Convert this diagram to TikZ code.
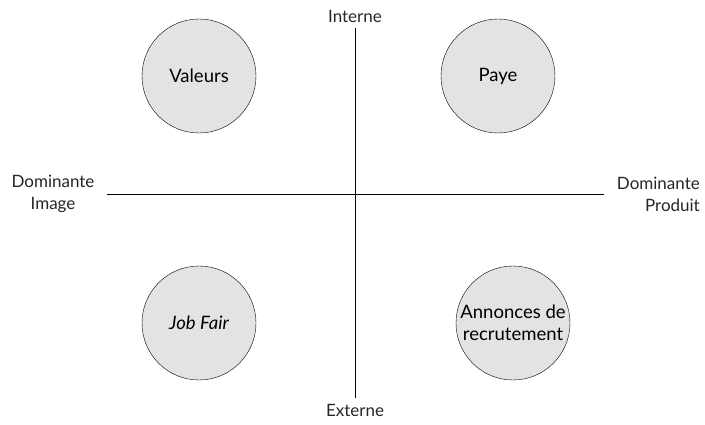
\documentclass[tikz,border=0pt]{standalone}
\usepackage{fontspec}
\setmainfont{Lato}
\usetikzlibrary{positioning}

\begin{document}
\begin{tikzpicture}[
    x=1pt, y=1pt,
    bubble/.style={circle, draw=black, fill=gray!22, minimum size=114pt, inner sep=0pt, align=center, font=\fontsize{18.5}{22}\selectfont},
    axis/.style={thick, color=black},
    pole/.style={font=\fontsize{17}{22}\selectfont, color=black!85, inner sep=1pt}
]
\useasboundingbox (0,0) rectangle (705,424);
% axes
\coordinate (top) at (355,396);
\coordinate (bot) at (355,26);
\coordinate (lft) at (107,230);
\coordinate (rgt) at (604,230);
\draw[axis] (top) -- (bot);
\draw[axis] (lft) -- (rgt);
% poles
\node[pole] (interne) at (355,408) {Interne};
\node[pole] (externe) at (355,14) {Externe};
\node[pole, align=center] (image) at (53,230) {Dominante\\Image};
\node[pole, align=right, anchor=east] (produit) at (701,230) {Dominante\\Produit};
% quadrants
\node[bubble] (valeurs) at (199,348) {Valeurs};
\node[bubble] (paye) at (498,348) {Paye};
\node[bubble] (jobfair) at (199,101) {\itshape Job Fair};
\node[bubble] (annonces) at (513,101) {Annonces de\\recrutement};
\end{tikzpicture}
\end{document}
